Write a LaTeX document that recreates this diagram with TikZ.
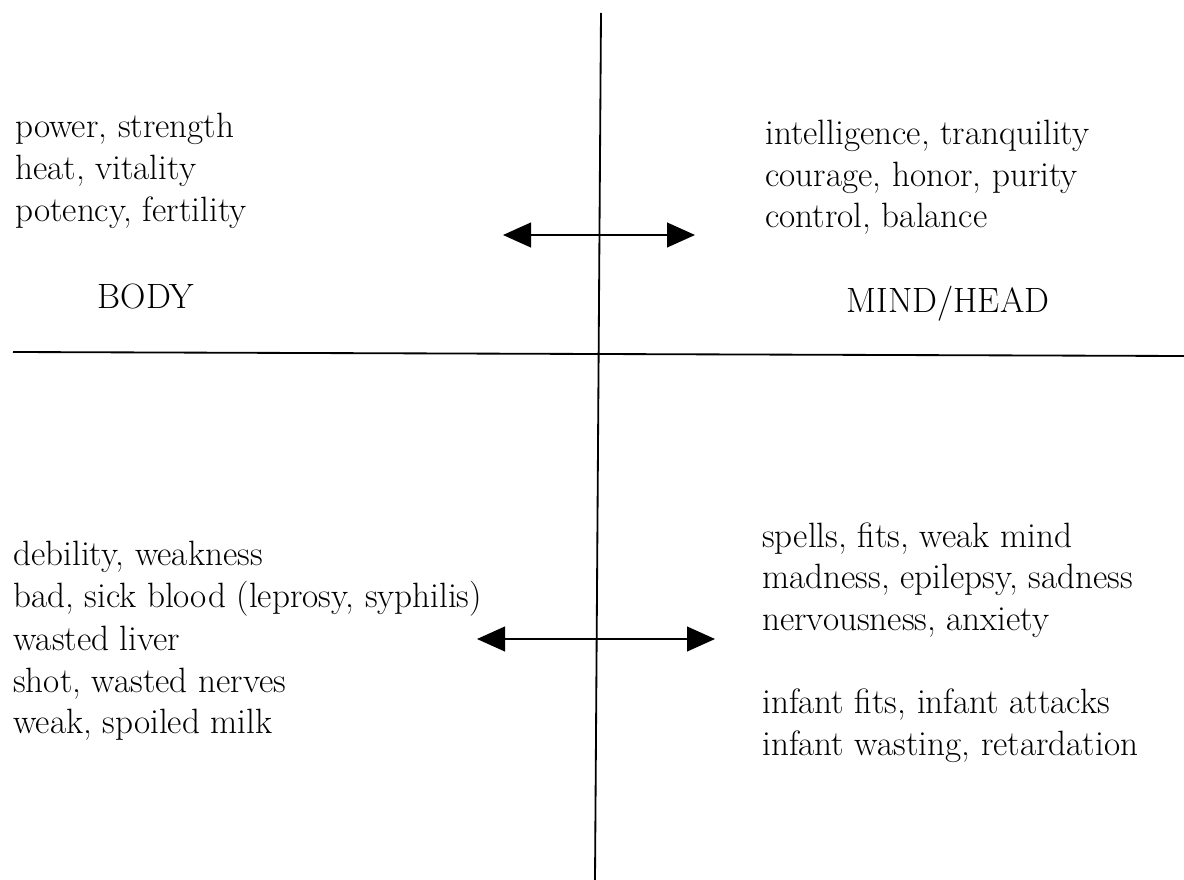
\documentclass[tikz,border=0pt]{standalone}
\usetikzlibrary{arrows.meta}

\tikzset{
  txt/.style={font=\fontsize{25}{30}\selectfont, inner sep=0pt, anchor=base west},
  head/.style={font=\fontsize{25}{30}\selectfont, inner sep=0pt, anchor=base},
  axis/.style={line width=1.3pt},
  link/.style={line width=1.2pt, {Triangle[length=0.7cm,width=0.62cm]}-{Triangle[length=0.7cm,width=0.62cm]}}
}

\begin{document}
\begin{tikzpicture}[x=0.025cm, y=-0.025cm]
  \useasboundingbox (0,0) rectangle (1184,880);

  \coordinate (N) at (601,13);
  \coordinate (S) at (595,880);
  \coordinate (W) at (13,352);
  \coordinate (E) at (1184,356);
  \coordinate (P) at (503,235);
  \coordinate (Q) at (695,235);
  \coordinate (R) at (477,639);
  \coordinate (T) at (715,639);

  \draw[axis] (N) -- (S);
  \draw[axis] (W) -- (E);
  \draw[link] (P) -- (Q);
  \draw[link] (R) -- (T);

  \node[txt] (b1) at (15,138) {power, strength};
  \node[txt] (b2) at (15,180) {heat, vitality};
  \node[txt] (b3) at (15,222) {potency, fertility};
  \node[head] (body) at (146,308) {BODY};

  \node[txt] (m1) at (765,145) {intelligence, tranquility};
  \node[txt] (m2) at (765,187) {courage, honor, purity};
  \node[txt] (m3) at (765,228) {control, balance};
  \node[head] (mind) at (948,312) {MIND/HEAD};

  \node[txt] (d1) at (13,565) {debility, weakness};
  \node[txt] (d2) at (13,607) {bad, sick blood (leprosy, syphilis)};
  \node[txt] (d3) at (13,650) {wasted liver};
  \node[txt] (d4) at (13,692) {shot, wasted nerves};
  \node[txt] (d5) at (13,733) {weak, spoiled milk};

  \node[txt] (s1) at (762,547) {spells, fits, weak mind};
  \node[txt] (s2) at (762,588) {madness, epilepsy, sadness};
  \node[txt] (s3) at (762,630) {nervousness, anxiety};
  \node[txt] (s4) at (762,713) {infant fits, infant attacks};
  \node[txt] (s5) at (762,755) {infant wasting, retardation};
\end{tikzpicture}
\end{document}
